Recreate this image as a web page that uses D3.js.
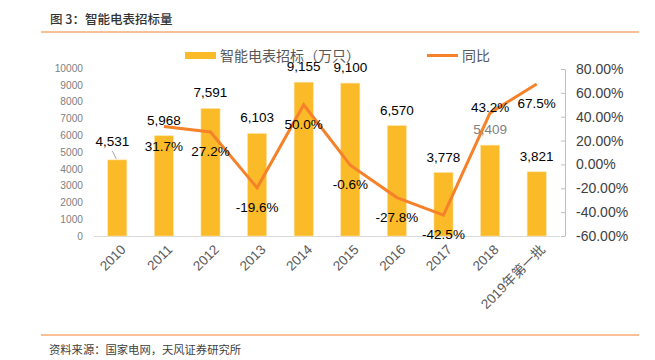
<!DOCTYPE html>
<html><head><meta charset="utf-8">
<script src="https://cdn.jsdelivr.net/npm/d3@7"></script>
<style>body{margin:0;background:#fff}svg{display:block}</style>
</head><body>
<script>
const categories = ["2010","2011","2012","2013","2014","2015","2016","2017","2018","2019年第一批"];
const bidVolume = [4531,5968,7591,6103,9155,9100,6570,3778,5409,3821];
const yoyPct = [null,31.7,27.2,-19.6,50.0,-0.6,-27.8,-42.5,43.2,67.5];
const leftTicks = [0,1000,2000,3000,4000,5000,6000,7000,8000,9000,10000];
const rightTicks = [-60,-40,-20,0,20,40,60,80];
const pctAboveCats = ["2018"];
const barLabelRaised = ["2010"];

const W=655,H=360;
const svg=d3.select("body").append("svg").attr("width",W).attr("height",H);
const font="'Liberation Sans', Arial, sans-serif";
const cjk="'Noto Sans CJK SC', sans-serif";

// title and frame lines
svg.append("text").attr("x",50).attr("y",24).attr("font-family",cjk).attr("font-size",12.5).attr("font-weight",500).attr("fill","#333").text("图 3：智能电表招标量");
svg.append("line").attr("x1",41).attr("x2",639).attr("y1",32).attr("y2",32).attr("stroke","#F8C094").attr("stroke-width",2);
svg.append("line").attr("x1",41).attr("x2",639).attr("y1",335).attr("y2",335).attr("stroke","#F8C094").attr("stroke-width",2);
svg.append("text").attr("x",49).attr("y",354).attr("font-family",cjk).attr("font-size",11.3).attr("fill","#404040").text("资料来源：国家电网，天风证券研究所");

const x=d3.scaleBand().domain(categories).range([94,560]).paddingInner(0.59).paddingOuter(0.295);
const yL=d3.scaleLinear().domain([0,10000]).range([236,68]);
const yR=d3.scaleLinear().domain([-60,80]).range([236,69]);

// left axis
const gl=svg.append("g").attr("transform","translate(86,0)")
  .call(d3.axisLeft(yL).tickValues(leftTicks).tickSize(0).tickPadding(3).tickFormat(d3.format("d")));
gl.select(".domain").remove();
gl.selectAll("text").attr("font-family",font).attr("font-size",10.2).attr("fill","#808080");

// right axis
const gr=svg.append("g").attr("transform","translate(565,0)")
  .call(d3.axisRight(yR).tickValues(rightTicks).tickSizeInner(-4).tickSizeOuter(0).tickPadding(11).tickFormat(d=>d.toFixed(2)+"%"));
gr.select(".domain").attr("stroke","#BFBFBF");
gr.selectAll(".tick line").attr("stroke","#BFBFBF");
gr.selectAll("text").attr("font-family",font).attr("font-size",14).attr("fill","#404040");

// x baseline
svg.append("line").attr("x1",94).attr("x2",560).attr("y1",236.5).attr("y2",236.5).attr("stroke","#D9D9D9").attr("stroke-width",1);

// bars
svg.append("g").selectAll("rect").data(bidVolume).join("rect")
  .attr("x",(d,i)=>x(categories[i])).attr("width",x.bandwidth())
  .attr("y",d=>yL(d)).attr("height",d=>yL(0)-yL(d))
  .attr("fill","#FBBA28").attr("stroke","#FDE3A6").attr("stroke-width",0.6);

// x labels
svg.append("g").selectAll("text").data(categories).join("text")
  .attr("transform",d=>`translate(${x(d)+x.bandwidth()/2+6},${247}) rotate(-45)`)
  .attr("text-anchor","end").attr("dy","0.35em")
  .attr("font-family",(d)=>d.length>4?"'Liberation Sans','Noto Sans CJK SC',sans-serif":font)
  .attr("font-size",13.5).attr("fill","#595959").text(d=>d);

// line
const pts=yoyPct.map((v,i)=>({v,c:categories[i]})).filter(p=>p.v!==null);
const line=d3.line().x(p=>x(p.c)+x.bandwidth()/2).y(p=>yR(p.v));
svg.append("path").datum(pts).attr("d",line).attr("fill","none").attr("stroke","#F5822A").attr("stroke-width",3).attr("stroke-linejoin","miter");

// bar labels
const fmt=d3.format(",");
bidVolume.forEach((v,i)=>{
  const c=categories[i], cx=x(c)+x.bandwidth()/2;
  const raised=barLabelRaised.includes(c);
  const by=yL(v)-(raised?14:11);
  if(raised){
    svg.append("line").attr("x1",cx-5).attr("y1",yL(v)-9).attr("x2",cx-1).attr("y2",yL(v)-1).attr("stroke","#A6A6A6").attr("stroke-width",1);
  }
  svg.append("text").attr("x",raised?cx-5:cx).attr("y",by).attr("text-anchor","middle")
    .attr("font-family",font).attr("font-size",13.5).attr("fill",c==="2018"?"#7F7F7F":"#000").text(fmt(v));
});

// pct labels
pts.forEach(p=>{
  const cx=x(p.c)+x.bandwidth()/2;
  const above=pctAboveCats.includes(p.c);
  svg.append("text").attr("x",cx).attr("y",yR(p.v)+(above?-1:24)).attr("text-anchor","middle")
    .attr("font-family",font).attr("font-size",13.5).attr("fill","#000").text(p.v.toFixed(1)+"%");
});

// legend
svg.append("rect").attr("x",185).attr("y",52).attr("width",31).attr("height",7).attr("fill","#FBBA28");
svg.append("text").attr("x",220).attr("y",56).attr("dy","0.35em").attr("font-family",cjk).attr("font-size",14).attr("fill","#595959").text("智能电表招标（万只）");
svg.append("line").attr("x1",427).attr("x2",458).attr("y1",55.5).attr("y2",55.5).attr("stroke","#F5822A").attr("stroke-width",3);
svg.append("text").attr("x",462).attr("y",56).attr("dy","0.35em").attr("font-family",cjk).attr("font-size",14).attr("fill","#595959").text("同比");
</script>
</body></html>
